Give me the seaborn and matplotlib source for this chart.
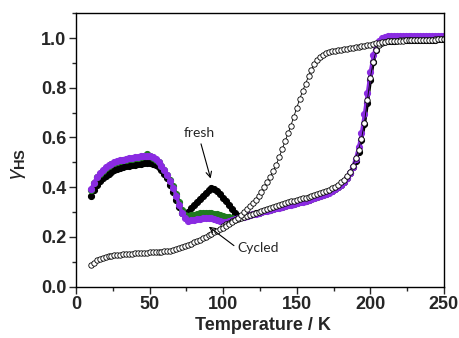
import matplotlib
matplotlib.use("Agg")
import matplotlib.pyplot as plt
import seaborn as sns
import pandas as pd
from matplotlib.ticker import MultipleLocator

# ---------------- data ----------------
T_full = list(range(10, 251, 2))        # measurement temperatures, 10..250 K
T_green = list(range(10, 107, 2))       # 10..106 K
T_heat = list(range(100, 251, 2))       # 100..250 K

open_cooling = [
    .087, .097, .106, .113, .117, .120, .123, .125, .127, .128,
    .129, .130, .131, .132, .133, .134, .135, .135, .136, .137,
    .138, .138, .139, .140, .141, .142, .143, .145, .147, .150,
    .154, .158, .163, .168, .173, .178, .183, .188, .194, .200,
    .206, .212, .218, .224, .230, .237, .244, .251, .259, .268,
    .278, .288, .299, .311, .323, .336, .350, .365, .381, .400,
    .420, .442, .465, .490, .520, .552, .584, .616, .648, .684,
    .720, .755, .787, .817, .846, .873, .895, .912, .924, .932,
    .938, .943, .946, .949, .951, .953, .955, .957, .959, .961,
    .963, .965, .967, .969, .971, .973, .976, .979, .982, .984,
    .986, .987, .988, .989, .989, .990, .990, .991, .991, .992,
    .992, .992, .993, .993, .993, .994, .994, .994, .995, .995,
    .995,
]

open_heating = [
    .245, .251, .257, .263, .268, .273, .278, .282, .286, .290,
    .294, .298, .302, .306, .310, .314, .318, .322, .326, .330,
    .334, .337, .340, .343, .346, .349, .352, .355, .358, .361,
    .364, .367, .371, .375, .379, .384, .389, .395, .402, .410,
    .419, .430, .444, .462, .487, .518, .550, .595, .660, .750,
    .840, .905, .950, .972, .982, .986, .988, .989, .990, .990,
    .991, .991, .991, .992, .992, .992, .993, .993, .993, .994,
    .994, .994, .995, .995, .995, .995,
]

fresh = [
    .365, .390, .410, .425, .437, .447, .455, .462, .468, .473,
    .477, .481, .484, .487, .489, .491, .493, .495, .496, .497,
    .497, .495, .490, .482, .470, .455, .435, .410, .381, .350,
    .320, .298, .292, .302, .315, .328, .341, .354, .366, .378,
    .388, .395, .394, .384, .371, .357, .343, .328, .313, .298,
    .286, .281, .283, .286, .289, .292, .295, .298, .301, .304,
    .307, .310, .313, .316, .319, .322, .325, .328, .331, .334,
    .337, .340, .343, .346, .349, .353, .357, .361, .365, .369,
    .374, .379, .385, .392, .400, .410, .422, .437, .456, .480,
    .505, .540, .590, .655, .740, .830, .905, .950, .975, .985,
    .988, .989, .990, .990, .991, .991, .991, .992, .992, .992,
    .993, .993, .993, .993, .994, .994, .994, .994, .995, .995,
    .995,
]

cycled_green = [
    .388, .415, .439, .455, .467, .477, .485, .492, .497, .501,
    .505, .508, .511, .513, .515, .517, .519, .522, .527, .534,
    .526, .519, .511, .500, .487, .470, .451, .429, .403, .373,
    .340, .308, .290, .285, .287, .290, .293, .295, .296, .296,
    .296, .295, .293, .291, .288, .285, .282, .279, .276,
]

cycled_purple = [
    .392, .418, .442, .458, .470, .480, .488, .495, .500, .504,
    .508, .511, .514, .516, .518, .520, .522, .524, .526, .527,
    .525, .520, .512, .500, .486, .468, .448, .425, .398, .366,
    .330, .297, .275, .266, .267, .270, .272, .274, .275, .276,
    .276, .275, .272, .267, .262, .259, .260, .264, .268, .272,
    .276, .279, .282, .285, .288, .291, .294, .297, .300, .303,
    .306, .309, .312, .315, .318, .321, .324, .327, .330, .333,
    .336, .339, .342, .345, .348, .352, .356, .360, .364, .368,
    .373, .378, .384, .391, .399, .408, .420, .436, .456, .482,
    .515, .560, .620, .695, .780, .865, .930, .970, .990, 1.000,
    1.005, 1.007, 1.008, 1.009, 1.009, 1.010, 1.010, 1.010, 1.010, 1.010,
    1.010, 1.010, 1.010, 1.010, 1.010, 1.010, 1.010, 1.010, 1.010, 1.010,
    1.010,
]

x_ticks = [0, 50, 100, 150, 200, 250]
y_ticks = [0.0, 0.2, 0.4, 0.6, 0.8, 1.0]

# ---------------- style ----------------
sns.set_style("ticks")
plt.rcParams["font.family"] = ["Liberation Sans", "DejaVu Sans"]
plt.rcParams["mathtext.fontset"] = "custom"
plt.rcParams["mathtext.rm"] = "Liberation Sans"
plt.rcParams["mathtext.bf"] = "Liberation Sans:bold"
plt.rcParams["mathtext.it"] = "Liberation Sans:italic"

fig = plt.figure(figsize=(4.59, 3.38), dpi=100)
ax = fig.add_axes([0.166, 0.152, 0.801, 0.809])

PURPLE = "#8a2be2"
GREEN = "#1f7a1f"

df_fresh = pd.DataFrame({"T": T_full, "g": fresh})
df_green = pd.DataFrame({"T": T_green, "g": cycled_green})
df_purple = pd.DataFrame({"T": T_full, "g": cycled_purple})
df_heat = pd.DataFrame({"T": T_heat, "g": open_heating})
df_cool = pd.DataFrame({"T": T_full, "g": open_cooling})

filled_kw = dict(sort=False, estimator=None, marker="o", markersize=4.4,
                 linewidth=2.4, ax=ax, legend=False)

sns.lineplot(data=df_fresh, x="T", y="g", color="black",
             markerfacecolor="black", markeredgecolor="black", **filled_kw)
sns.lineplot(data=df_green, x="T", y="g", color=GREEN,
             markerfacecolor=GREEN, markeredgecolor=GREEN, **filled_kw)
sns.lineplot(data=df_purple, x="T", y="g", color=PURPLE,
             markerfacecolor=PURPLE, markeredgecolor=PURPLE, **filled_kw)

open_kw = dict(sort=False, estimator=None, marker="o", markersize=3.9,
               linewidth=0.6, color="black", markerfacecolor="white",
               markeredgecolor="black", markeredgewidth=0.6, ax=ax,
               legend=False)
sns.lineplot(data=df_heat, x="T", y="g", **open_kw)
sns.lineplot(data=df_cool, x="T", y="g", **open_kw)

# ---------------- annotations ----------------
ax.annotate("fresh", xy=(91.4, 0.435), xytext=(84, 0.617),
            ha="center", va="center", fontsize=10, family=["Lato", "DejaVu Sans"],
            arrowprops=dict(arrowstyle="->", color="black", lw=0.8,
                            shrinkA=1, shrinkB=0, relpos=(0.5, 0.0)))
ax.annotate("Cycled", xy=(90.2, 0.241), xytext=(109.5, 0.155),
            ha="left", va="center", fontsize=10, family=["Lato", "DejaVu Sans"],
            arrowprops=dict(arrowstyle="->", color="black", lw=0.8,
                            shrinkA=0, shrinkB=0, relpos=(0.0, 0.5)))

# ---------------- axes ----------------
ax.set_xlim(0, 250)
ax.set_ylim(0, 1.1)
ax.set_xticks(x_ticks)
ax.set_yticks(y_ticks)
ax.xaxis.set_minor_locator(MultipleLocator(25))
ax.yaxis.set_minor_locator(MultipleLocator(0.1))
ax.tick_params(axis="both", which="major", direction="out", length=5,
               width=1.0, labelsize=13, pad=2, top=False, right=False)
ax.tick_params(axis="both", which="minor", direction="out", length=3,
               width=1.0, top=False, right=False)
for lab in ax.get_xticklabels() + ax.get_yticklabels():
    lab.set_fontweight("bold")
for s in ax.spines.values():
    s.set_visible(True)
    s.set_linewidth(1.0)
    s.set_color("black")

ax.set_xlabel("Temperature / K", fontsize=13, fontweight="bold")
ax.set_ylabel(r"$\gamma_{\mathbf{HS}}$", fontsize=15)
ax.xaxis.set_label_coords(0.508, -0.112)
ax.yaxis.set_label_coords(-0.13, 0.45)

fig.savefig("out.png", dpi=100)
